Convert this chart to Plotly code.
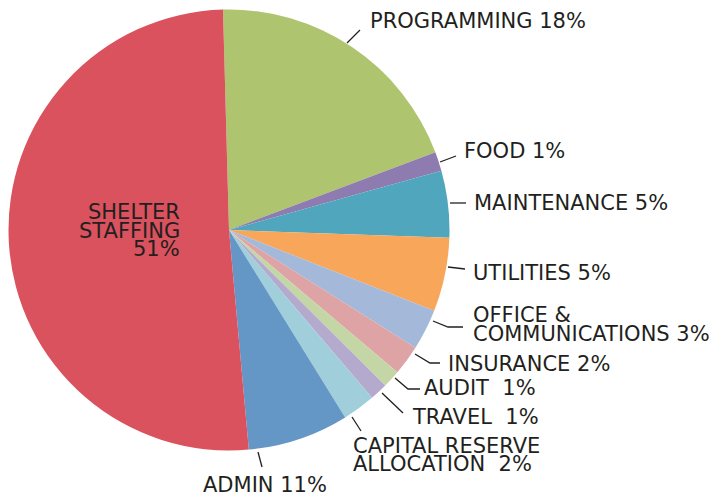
import plotly.graph_objects as go

# ---- data ----
categories = ["PROGRAMMING", "FOOD", "MAINTENANCE", "UTILITIES", "OFFICE & COMMUNICATIONS",
              "INSURANCE", "AUDIT", "TRAVEL", "CAPITAL RESERVE ALLOCATION", "ADMIN", "SHELTER STAFFING"]
slice_values = [19.7, 1.4, 4.9, 5.4, 3.0, 2.2, 1.3, 1.3, 2.4, 7.4, 51.0]
label_lines = [
    ["PROGRAMMING 18%"],
    ["FOOD 1%"],
    ["MAINTENANCE 5%"],
    ["UTILITIES 5%"],
    ["OFFICE &", "COMMUNICATIONS 3%"],
    ["INSURANCE 2%"],
    ["AUDIT\u00a0\u00a01%"],
    ["TRAVEL\u00a0\u00a01%"],
    ["CAPITAL RESERVE", "ALLOCATION\u00a0\u00a02%"],
    ["ADMIN 11%"],
    ["SHELTER", "STAFFING", "51%"],
]

# ---- style / layout ----
colors = ["#AEC46E", "#8E7CB0", "#50A6BC", "#F7A65A", "#A4B9DA",
          "#DDA3A5", "#C4D6A6", "#B4AACE", "#A0CEDA", "#6496C6", "#DA525E"]
W, H = 718, 495
CX, CY, R = 229, 230, 220.5
TEXT_COLOR = "#231F20"
FONT = "DejaVu Sans"
FS = 21
CAP_OFF = 0  # pixel offset between cap-center and box-center

# label anchor positions in pixels: (x, [cap-center y per line], xanchor)
label_pos = [
    (369, [21], "left"),
    (463, [151], "left"),
    (473, [203], "left"),
    (472, [273], "left"),
    (472, [315, 334], "left"),
    (447, [364], "left"),
    (423, [388], "left"),
    (411, [417], "left"),
    (352, [446, 464], "left"),
    (202, [485], "left"),
    (181, [212, 231, 249], "right"),
]
# leader line paths in pixels
leaders = [
    [(347, 43), (360, 30)],
    [(440, 162), (456, 156)],
    [(450, 203), (466, 203)],
    [(448, 267), (465, 269)],
    [(433, 321), (448, 327), (463, 327)],
    [(415, 354), (430, 363), (440, 363)],
    [(395, 378), (408, 389), (420, 389)],
    [(382, 393), (403, 413)],
    [(352, 417), (361, 431)],
    [(258, 452), (262, 467)],
    [],
]


def px(x):
    return x / W


def py(y):
    return 1 - y / H


fig = go.Figure(go.Pie(
    labels=categories,
    values=slice_values,
    marker=dict(colors=colors, line=dict(width=0)),
    sort=False,
    direction="clockwise",
    rotation=-1.56,
    textinfo="none",
    hoverinfo="label",
    showlegend=False,
    domain=dict(x=[px(CX - R), px(CX + R)], y=[py(CY + R), py(CY - R)]),
))

annotations = []
for (x, ys, anchor), lines in zip(label_pos, label_lines):
    for yy, txt in zip(ys, lines):
        annotations.append(dict(
            x=px(x), y=py(yy + CAP_OFF), xref="paper", yref="paper",
            text=txt, showarrow=False, xanchor=anchor, yanchor="middle",
            align=anchor, borderpad=0,
            font=dict(family=FONT, size=FS, color=TEXT_COLOR),
        ))

shapes = []
for path in leaders:
    if not path:
        continue
    d = "M " + " L ".join(f"{px(a)},{py(b)}" for a, b in path)
    shapes.append(dict(type="path", path=d, xref="paper", yref="paper",
                       line=dict(color=TEXT_COLOR, width=1.3)))

fig.update_layout(
    width=W, height=H,
    margin=dict(l=0, r=0, t=0, b=0),
    paper_bgcolor="white", plot_bgcolor="white",
    annotations=annotations, shapes=shapes,
)

fig.write_html(
    "out.html",
    config={"displayModeBar": False},
    post_script="document.body.style.margin='0';document.body.style.overflow='hidden';",
)
